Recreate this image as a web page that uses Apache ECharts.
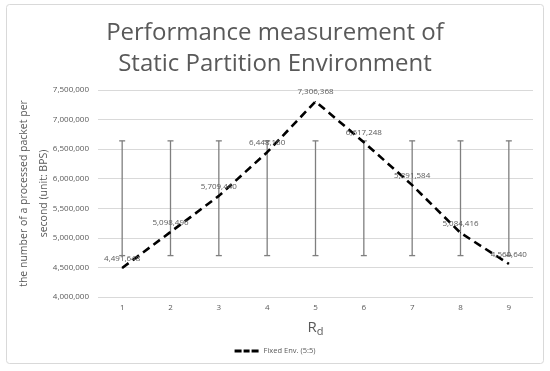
<!DOCTYPE html>
<html><head><meta charset="utf-8">
<script src="https://cdn.jsdelivr.net/npm/echarts@6/dist/echarts.min.js"></script>
<style>html,body{margin:0;padding:0;background:#fff}#c{width:550px;height:371px}</style>
</head><body><div id="c"></div>
<script>
const categories = ['1','2','3','4','5','6','7','8','9'];
const fixedEnv = [4491648, 5098496, 5709440, 6448160, 7306368, 6617248, 5891584, 5084416, 4560640];
const errLow = [4700000, 4700000, 4700000, 4700000, 4700000, 4700000, 4700000, 4700000, 4700000];
const errHigh = [6640000, 6640000, 6640000, 6640000, 6640000, 6640000, 6640000, 6640000, 6640000];
const yTicks = {min: 4000000, max: 7500000, interval: 500000};
const seriesName = 'Fixed Env. (5:5)';
const titleText = 'Performance measurement of\nStatic Partition Environment';
const yName = 'the number of a processed packet per\nsecond (unit: BPS)';

const FONT = '"Open Sans", "Liberation Sans", sans-serif';
const fmt = v => v.toLocaleString('en-US');
const chart = echarts.init(document.getElementById('c'), null, {renderer: 'canvas'});
chart.setOption({
  animation: false,
  backgroundColor: '#fff',
  textStyle: {fontFamily: FONT},
  graphic: [{type: 'rect', shape: {x: 6.5, y: 4.5, width: 537, height: 359, r: 3}, style: {fill: 'none', stroke: '#d9d9d9', lineWidth: 1}, z: -1}],
  title: {text: titleText, left: 'center', top: 13, textStyle: {fontFamily: FONT, fontSize: 24, fontWeight: 'normal', color: '#595959', lineHeight: 31}},
  grid: {left: 98, right: 17, top: 90, bottom: 74, containLabel: false, outerBoundsMode: 'none'},
  legend: {bottom: 11, left: 'center', itemWidth: 24, itemHeight: 8, itemGap: 4, data: [{name: seriesName, icon: 'path://M0,0 L7,0 L7,3 L0,3 Z M9,0 L15,0 L15,3 L9,3 Z M17,0 L24,0 L24,3 L17,3 Z'}], textStyle: {fontSize: 7.5, color: '#595959', fontFamily: FONT}},
  xAxis: {type: 'category', data: categories, boundaryGap: true,
    axisLine: {show: false}, axisTick: {show: false},
    axisLabel: {fontSize: 8, color: '#595959', margin: 7},
    name: '{r|R}{d|d}', nameLocation: 'middle', nameGap: 21, nameMoveOverlap: false,
    nameTextStyle: {rich: {r: {fontSize: 15, color: '#595959', fontFamily: FONT}, d: {fontSize: 11, color: '#595959', fontFamily: FONT, padding: [8, 0, 0, 0]}}}
  },
  yAxis: {type: 'value', min: yTicks.min, max: yTicks.max, interval: yTicks.interval,
    axisLine: {show: false}, axisTick: {show: false},
    splitLine: {lineStyle: {color: '#d9d9d9', width: 1}},
    axisLabel: {fontSize: 8, color: '#595959', margin: 9, formatter: fmt},
    name: yName, nameLocation: 'middle', nameRotate: 90, nameGap: 44, nameMoveOverlap: false,
    nameTextStyle: {fontSize: 10.5, color: '#595959', lineHeight: 20, fontFamily: FONT}
  },
  series: [
    {type: 'custom', name: 'err', silent: true, z: 1,
      data: categories.map((c, i) => [i, errLow[i], errHigh[i]]),
      renderItem: (params, api) => {
        const lo = api.coord([api.value(0), api.value(1)]);
        const hi = api.coord([api.value(0), api.value(2)]);
        const w = 3;
        const st = {stroke: '#7f7f7f', lineWidth: 1.3};
        return {type: 'group', children: [
          {type: 'line', shape: {x1: lo[0], y1: lo[1], x2: hi[0], y2: hi[1]}, style: st},
          {type: 'line', shape: {x1: lo[0]-w, y1: lo[1], x2: lo[0]+w, y2: lo[1]}, style: st},
          {type: 'line', shape: {x1: hi[0]-w, y1: hi[1], x2: hi[0]+w, y2: hi[1]}, style: st}
        ]};
      }
    },
    {type: 'line', name: seriesName, data: fixedEnv, z: 3,
      symbol: 'circle', symbolSize: 1, showSymbol: true, color: '#000',
      itemStyle: {color: '#000'},
      lineStyle: {color: '#000', width: 2.6, type: [8, 5]},
      labelLayout: {hideOverlap: false},
      label: {show: true, position: 'top', distance: 5, fontSize: 8, color: '#595959', formatter: p => fmt(p.value)}
    }
  ]
});
</script></body></html>
